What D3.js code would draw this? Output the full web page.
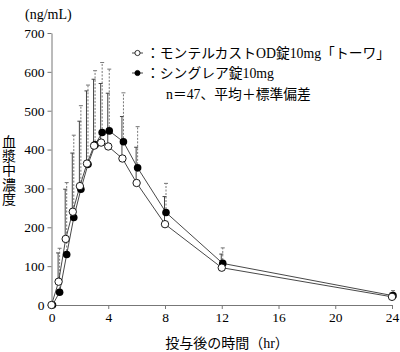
<!DOCTYPE html>
<html>
<head>
<meta charset="utf-8">
<script src="https://cdn.jsdelivr.net/npm/d3@7"></script>
<style>
  body { margin: 0; background: #fff; }
  svg text { font-family: "Liberation Serif", "Noto Sans CJK JP", serif; fill: #000; }
</style>
</head>
<body>
<div id="chart"></div>
<script>
// time points (hr)
const times = [0, 0.5, 1, 1.5, 2, 2.5, 3, 3.5, 4, 5, 6, 8, 12, 24];

// モンテルカストOD錠10mg「トーワ」 (open circles)
const openMean = [0, 60, 170, 240, 306, 364, 410, 418, 408, 377, 314, 208, 96, 21];
const openSD   = [0, 74, 128, 151, 167, 187, 171, 152, 137, 108, 92, 71, 35, 10];

// シングレア錠10mg (filled circles)
const fillMean = [0, 33, 130, 225, 298, 362, 412, 444, 448, 420, 353, 238, 107, 24];
const fillSD   = [0, 113, 185, 212, 215, 204, 191, 180, 159, 126, 106, 75, 40, 13];

const xTicks = [0, 4, 8, 12, 16, 20, 24];
const yTicks = [0, 100, 200, 300, 400, 500, 600, 700];

const W = 400, H = 352;

const svg = d3.select("#chart").append("svg")
    .attr("width", W)
    .attr("height", H);

const x = d3.scaleLinear().domain([0, 24]).range([51.5, 392]);
const y = d3.scaleLinear().domain([0, 700]).range([305, 33]);

const openData = times.map((t, i) => ({t, m: openMean[i], sd: openSD[i]}));
const fillData = times.map((t, i) => ({t, m: fillMean[i], sd: fillSD[i]}));

// axes
const xAxis = svg.append("g")
    .attr("transform", `translate(0,${y(0)})`)
    .call(d3.axisBottom(x).tickValues(xTicks).tickSize(4).tickPadding(3).tickSizeOuter(0));
const yAxis = svg.append("g")
    .attr("transform", `translate(${x(0)},0)`)
    .call(d3.axisLeft(y).tickValues(yTicks).tickSize(4).tickPadding(3).tickSizeOuter(0));

[xAxis, yAxis].forEach(g => {
    g.select(".domain").attr("stroke", "#777");
    g.selectAll(".tick line").attr("stroke", "#777");
    g.selectAll(".tick text")
        .style("font-family", "'Liberation Serif', serif")
        .style("font-size", "13.5px")
        .attr("fill", "#000");
});

// error bars (upper only)
function errBars(data, dx, stroke, dash) {
    const g = svg.append("g");
    g.selectAll("line.v").data(data.filter(d => d.sd > 0)).enter().append("line")
        .attr("x1", d => x(d.t) + dx).attr("x2", d => x(d.t) + dx)
        .attr("y1", d => y(d.m)).attr("y2", d => y(d.m + d.sd))
        .attr("stroke", stroke).attr("stroke-width", 1)
        .attr("stroke-dasharray", dash);
    g.selectAll("line.c").data(data.filter(d => d.sd > 0)).enter().append("line")
        .attr("x1", d => x(d.t) + dx - 2).attr("x2", d => x(d.t) + dx + 2)
        .attr("y1", d => y(d.m + d.sd)).attr("y2", d => y(d.m + d.sd))
        .attr("stroke", stroke).attr("stroke-width", 1);
}
errBars(openData, -0.5, "#444", null);
errBars(fillData, 1, "#777", "2,1.5");

// lines
const line = d3.line().x(d => x(d.t)).y(d => y(d.m));
svg.append("path").datum(fillData)
    .attr("d", d3.line().x(d => x(d.t) + 1).y(d => y(d.m)))
    .attr("fill", "none").attr("stroke", "#333").attr("stroke-width", 0.9);
svg.append("path").datum(openData)
    .attr("d", line)
    .attr("fill", "none").attr("stroke", "#333").attr("stroke-width", 0.9);

// markers
svg.selectAll(".fdot").data(fillData).enter().append("circle")
    .attr("cx", d => x(d.t) + 1).attr("cy", d => y(d.m)).attr("r", 3.8)
    .attr("fill", "#000");
svg.selectAll(".odot").data(openData).enter().append("circle")
    .attr("cx", d => x(d.t)).attr("cy", d => y(d.m)).attr("r", 3.7)
    .attr("fill", "#fff").attr("stroke", "#000").attr("stroke-width", 0.9);

// legend
const legend = [
    {label: "：モンテルカストOD錠10mg「トーワ」", open: true, y: 53},
    {label: "：シングレア錠10mg", open: false, y: 73}
];
const lg = svg.selectAll(".leg").data(legend).enter().append("g")
    .attr("transform", d => `translate(0,${d.y})`);
lg.append("line").attr("x1", 132).attr("x2", 143).attr("stroke", "#333").attr("stroke-width", 0.9);
lg.append("circle").attr("cx", 137.5).attr("r", 2.6)
    .attr("fill", d => d.open ? "#fff" : "#000")
    .attr("stroke", "#000").attr("stroke-width", 0.8);
lg.append("text").attr("x", 146).attr("dy", "0.36em")
    .style("font-size", "13.8px").text(d => d.label);
svg.append("text").attr("x", 166).attr("y", 94).attr("dy", "0.36em")
    .style("font-size", "13.8px").text("n＝47、平均＋標準偏差");

// axis titles
svg.append("text").attr("x", 25).attr("y", 14).attr("dy", "0.36em")
    .style("font-size", "14px").text("(ng/mL)");
svg.append("text").attr("x", 227).attr("y", 343).attr("dy", "0.36em")
    .attr("text-anchor", "middle")
    .style("font-size", "14px").text("投与後の時間（hr）");

// vertical y title, one character per line
const yTitle = "血漿中濃度";
const yt = svg.append("text").attr("text-anchor", "middle")
    .style("font-size", "14px");
yt.selectAll("tspan").data(Array.from(yTitle)).enter().append("tspan")
    .attr("x", 9)
    .attr("y", (d, i) => 141.5 + i * 14.4)
    .attr("dy", "0.36em")
    .text(d => d);
</script>
</body>
</html>
